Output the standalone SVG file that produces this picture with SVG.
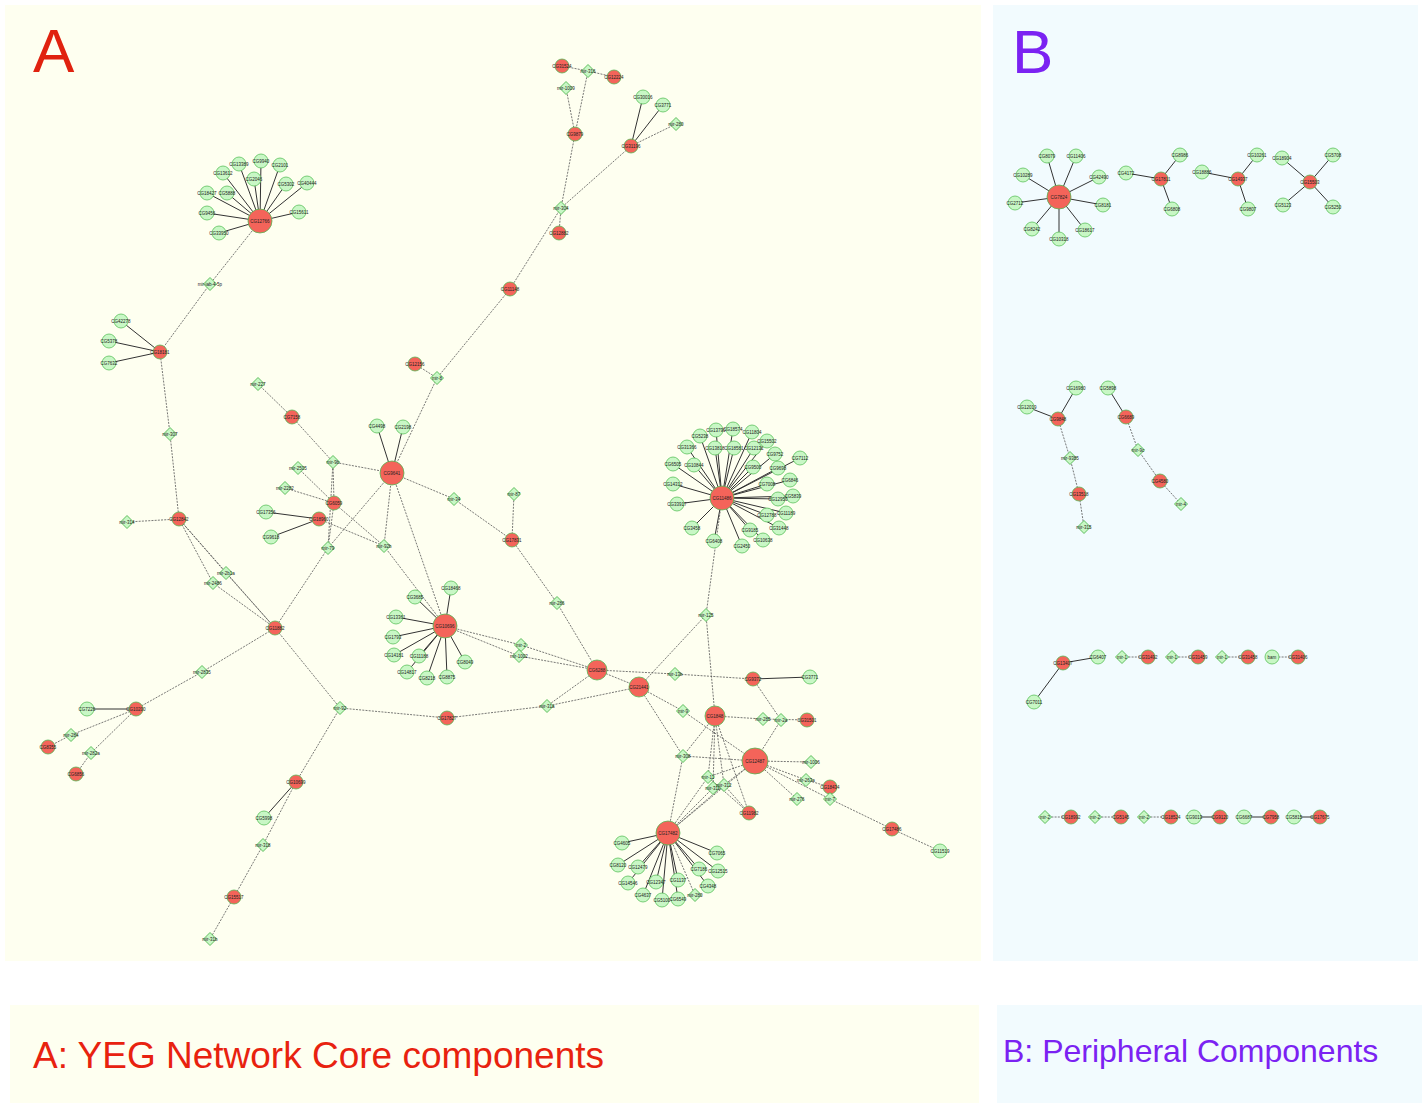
<svg xmlns="http://www.w3.org/2000/svg" xmlns:xlink="http://www.w3.org/1999/xlink" width="1427" height="1105" viewBox="0 0 1427 1105">
<style>
.bgA{fill:#FEFFF0}
.bgB{fill:#F2FBFE}
.gn{fill:#C8F7C5;stroke:#5DC25D;stroke-width:.8}
.rn{fill:#F4645A;stroke:#56B856;stroke-width:.8}
.mn{fill:#C8F7C5;stroke:#3FAF3F;stroke-width:.8}
.s{stroke:#333;stroke-width:1;fill:none}
.d{stroke:#555;stroke-width:.8;stroke-dasharray:2 1.2;fill:none}
.t{font-family:"Liberation Sans",Arial,sans-serif;font-size:4.5px;fill:#222;text-anchor:middle;dominant-baseline:central}
.big{font-family:"Liberation Sans",Arial,sans-serif}
</style>
<defs>
<path id="dm" d="M0,-6.5L6.5,0L0,6.5L-6.5,0Z"/>
</defs>

<!-- panels -->
<rect class="bgA" x="5" y="5" width="976" height="956"/>
<rect class="bgB" x="993" y="5" width="425" height="956"/>
<rect class="bgA" x="10" y="1005" width="969" height="98"/>
<rect class="bgB" x="997" y="1005" width="425" height="98"/>
<text class="big" x="33" y="72" font-size="62" fill="#E0220F">A</text>
<text class="big" x="1012" y="73" font-size="62" fill="#7B22F2">B</text>
<text class="big" x="33" y="1068" font-size="37" fill="#E8220F">A: YEG Network Core components</text>
<text class="big" x="1003" y="1062" font-size="32" fill="#7B22F2">B: Peripheral Components</text>

<g id="edges">
<!-- gene to hub links (solid) -->
<g class="s">
<line x1="260" y1="221" x2="239" y2="164"/><line x1="260" y1="221" x2="261" y2="161"/><line x1="260" y1="221" x2="280" y2="165"/><line x1="260" y1="221" x2="223" y2="173"/><line x1="260" y1="221" x2="254" y2="179"/><line x1="260" y1="221" x2="286" y2="184"/><line x1="260" y1="221" x2="307" y2="183"/><line x1="260" y1="221" x2="207" y2="193"/><line x1="260" y1="221" x2="227" y2="193"/><line x1="260" y1="221" x2="207" y2="213"/><line x1="260" y1="221" x2="299" y2="212"/><line x1="260" y1="221" x2="219" y2="233"/>
<line x1="160" y1="352" x2="121" y2="321"/><line x1="160" y1="352" x2="109" y2="341"/><line x1="160" y1="352" x2="109" y2="363"/>
<line x1="631" y1="146" x2="643" y2="97"/><line x1="631" y1="146" x2="663" y2="105"/>
<line x1="392" y1="473" x2="377" y2="426"/><line x1="392" y1="473" x2="403" y2="427"/>
<line x1="319" y1="519" x2="266" y2="512"/><line x1="319" y1="519" x2="271" y2="537"/>
<line x1="136" y1="709" x2="87" y2="709"/>
<line x1="296" y1="782" x2="264" y2="818"/>
<line x1="753" y1="679" x2="810" y2="677"/>
<line x1="722" y1="498" x2="716" y2="430"/><line x1="722" y1="498" x2="733" y2="429"/><line x1="722" y1="498" x2="752" y2="432"/><line x1="722" y1="498" x2="700" y2="436"/><line x1="722" y1="498" x2="687" y2="447"/><line x1="722" y1="498" x2="715" y2="448"/><line x1="722" y1="498" x2="734" y2="448"/><line x1="722" y1="498" x2="754" y2="448"/><line x1="722" y1="498" x2="767" y2="441"/><line x1="722" y1="498" x2="775" y2="454"/><line x1="722" y1="498" x2="800" y2="458"/><line x1="722" y1="498" x2="673" y2="464"/><line x1="722" y1="498" x2="694" y2="465"/><line x1="722" y1="498" x2="753" y2="467"/><line x1="722" y1="498" x2="778" y2="468"/><line x1="722" y1="498" x2="790" y2="480"/><line x1="722" y1="498" x2="673" y2="484"/><line x1="722" y1="498" x2="767" y2="484"/><line x1="722" y1="498" x2="793" y2="496"/><line x1="722" y1="498" x2="778" y2="499"/><line x1="722" y1="498" x2="677" y2="504"/><line x1="722" y1="498" x2="786" y2="513"/><line x1="722" y1="498" x2="767" y2="515"/><line x1="722" y1="498" x2="779" y2="528"/><line x1="722" y1="498" x2="692" y2="528"/><line x1="722" y1="498" x2="750" y2="530"/><line x1="722" y1="498" x2="763" y2="540"/><line x1="722" y1="498" x2="714" y2="541"/><line x1="722" y1="498" x2="742" y2="546"/>
<line x1="445" y1="626" x2="451" y2="588"/><line x1="445" y1="626" x2="415" y2="597"/><line x1="445" y1="626" x2="396" y2="617"/><line x1="445" y1="626" x2="393" y2="637"/><line x1="445" y1="626" x2="394" y2="655"/><line x1="445" y1="626" x2="419" y2="656"/><line x1="445" y1="626" x2="407" y2="672"/><line x1="445" y1="626" x2="427" y2="678"/><line x1="445" y1="626" x2="447" y2="677"/><line x1="445" y1="626" x2="465" y2="662"/>
<line x1="668" y1="833" x2="622" y2="843"/><line x1="668" y1="833" x2="618" y2="865"/><line x1="668" y1="833" x2="638" y2="867"/><line x1="668" y1="833" x2="628" y2="883"/><line x1="668" y1="833" x2="643" y2="895"/><line x1="668" y1="833" x2="656" y2="882"/><line x1="668" y1="833" x2="662" y2="900"/><line x1="668" y1="833" x2="678" y2="899"/><line x1="668" y1="833" x2="678" y2="880"/><line x1="668" y1="833" x2="708" y2="886"/><line x1="668" y1="833" x2="699" y2="869"/><line x1="668" y1="833" x2="718" y2="871"/><line x1="668" y1="833" x2="717" y2="853"/>
<!-- peripheral -->
<line x1="1059" y1="197" x2="1047" y2="156"/><line x1="1059" y1="197" x2="1076" y2="156"/><line x1="1059" y1="197" x2="1023" y2="175"/><line x1="1059" y1="197" x2="1099" y2="177"/><line x1="1059" y1="197" x2="1015" y2="203"/><line x1="1059" y1="197" x2="1103" y2="205"/><line x1="1059" y1="197" x2="1032" y2="229"/><line x1="1059" y1="197" x2="1085" y2="230"/><line x1="1059" y1="197" x2="1059" y2="239"/>
<line x1="1161" y1="179" x2="1126" y2="173"/><line x1="1161" y1="179" x2="1180" y2="155"/><line x1="1161" y1="179" x2="1172" y2="209"/>
<line x1="1238" y1="179" x2="1202" y2="172"/><line x1="1238" y1="179" x2="1257" y2="155"/><line x1="1238" y1="179" x2="1248" y2="209"/>
<line x1="1310" y1="182" x2="1282" y2="158"/><line x1="1310" y1="182" x2="1333" y2="155"/><line x1="1310" y1="182" x2="1283" y2="205"/><line x1="1310" y1="182" x2="1333" y2="207"/>
<line x1="1058" y1="419" x2="1076" y2="388"/><line x1="1058" y1="419" x2="1027" y2="407"/>
<line x1="1126" y1="417" x2="1108" y2="388"/>
<line x1="1063" y1="663" x2="1098" y2="657"/><line x1="1063" y1="663" x2="1034" y2="702"/>
<line x1="1194" y1="817" x2="1220" y2="817"/><line x1="1244" y1="817" x2="1271" y2="817"/><line x1="1294" y1="817" x2="1320" y2="817"/>
</g>
<!-- miRNA to target links (dashed) -->
<g class="d">
<line x1="260" y1="221" x2="210" y2="284"/><line x1="210" y1="284" x2="160" y2="352"/>
<line x1="160" y1="352" x2="170" y2="434"/><line x1="170" y1="434" x2="179" y2="519"/>
<line x1="179" y1="519" x2="127" y2="522"/>
<line x1="179" y1="519" x2="226" y2="573"/><line x1="179" y1="519" x2="213" y2="583"/><line x1="179" y1="519" x2="275" y2="628"/>
<line x1="226" y1="573" x2="275" y2="628"/><line x1="213" y1="583" x2="275" y2="628"/>
<line x1="275" y1="628" x2="202" y2="672"/><line x1="202" y1="672" x2="136" y2="709"/>
<line x1="136" y1="709" x2="71" y2="735"/><line x1="71" y1="735" x2="48" y2="747"/>
<line x1="136" y1="709" x2="91" y2="753"/><line x1="91" y1="753" x2="76" y2="774"/>
<line x1="275" y1="628" x2="328" y2="548"/><line x1="328" y1="548" x2="392" y2="473"/>
<line x1="275" y1="628" x2="340" y2="708"/><line x1="340" y1="708" x2="447" y2="718"/>
<line x1="340" y1="708" x2="296" y2="782"/><line x1="296" y1="782" x2="263" y2="845"/>
<line x1="263" y1="845" x2="234" y2="897"/><line x1="234" y1="897" x2="210" y2="939"/>
<line x1="562" y1="66" x2="588" y2="71"/><line x1="588" y1="71" x2="614" y2="77"/>
<line x1="588" y1="71" x2="575" y2="134"/><line x1="566" y1="88" x2="575" y2="134"/>
<line x1="575" y1="134" x2="561" y2="208"/><line x1="631" y1="146" x2="676" y2="124"/>
<line x1="631" y1="146" x2="561" y2="208"/><line x1="561" y1="208" x2="559" y2="233"/>
<line x1="561" y1="208" x2="510" y2="289"/><line x1="510" y1="289" x2="437" y2="378"/>
<line x1="415" y1="364" x2="437" y2="378"/><line x1="437" y1="378" x2="392" y2="473"/>
<line x1="258" y1="384" x2="292" y2="417"/><line x1="292" y1="417" x2="333" y2="462"/>
<line x1="333" y1="462" x2="392" y2="473"/><line x1="333" y1="462" x2="334" y2="503"/>
<line x1="333" y1="462" x2="328" y2="548"/>
<line x1="298" y1="468" x2="334" y2="503"/><line x1="285" y1="488" x2="334" y2="503"/>
<line x1="334" y1="503" x2="384" y2="546"/><line x1="334" y1="503" x2="328" y2="548"/>
<line x1="319" y1="519" x2="384" y2="546"/><line x1="392" y1="473" x2="384" y2="546"/>
<line x1="384" y1="546" x2="445" y2="626"/><line x1="392" y1="473" x2="445" y2="626"/>
<line x1="392" y1="473" x2="454" y2="499"/><line x1="454" y1="499" x2="512" y2="540"/>
<line x1="514" y1="494" x2="512" y2="540"/><line x1="512" y1="540" x2="557" y2="603"/>
<line x1="557" y1="603" x2="597" y2="670"/>
<line x1="445" y1="626" x2="521" y2="645"/><line x1="521" y1="645" x2="597" y2="670"/>
<line x1="445" y1="626" x2="519" y2="656"/><line x1="519" y1="656" x2="597" y2="670"/>
<line x1="597" y1="670" x2="675" y2="674"/><line x1="675" y1="674" x2="753" y2="679"/>
<line x1="597" y1="670" x2="639" y2="687"/>
<line x1="597" y1="670" x2="547" y2="706"/><line x1="639" y1="687" x2="547" y2="706"/>
<line x1="547" y1="706" x2="447" y2="718"/>
<line x1="639" y1="687" x2="706" y2="615"/><line x1="706" y1="615" x2="722" y2="498"/>
<line x1="706" y1="615" x2="715" y2="716"/>
<line x1="639" y1="687" x2="683" y2="711"/><line x1="683" y1="711" x2="755" y2="761"/>
<line x1="639" y1="687" x2="683" y2="756"/><line x1="683" y1="756" x2="755" y2="761"/>
<line x1="683" y1="756" x2="715" y2="716"/><line x1="683" y1="756" x2="668" y2="833"/>
<line x1="715" y1="716" x2="763" y2="719"/><line x1="763" y1="719" x2="807" y2="720"/>
<line x1="781" y1="720" x2="753" y2="679"/><line x1="781" y1="720" x2="755" y2="761"/>
<line x1="715" y1="716" x2="708" y2="777"/><line x1="715" y1="716" x2="713" y2="788"/>
<line x1="715" y1="716" x2="724" y2="785"/><line x1="715" y1="716" x2="749" y2="813"/>
<line x1="708" y1="777" x2="668" y2="833"/><line x1="713" y1="788" x2="668" y2="833"/>
<line x1="724" y1="785" x2="668" y2="833"/><line x1="755" y1="761" x2="668" y2="833"/>
<line x1="755" y1="761" x2="708" y2="777"/><line x1="755" y1="761" x2="724" y2="785"/>
<line x1="708" y1="777" x2="749" y2="813"/><line x1="724" y1="785" x2="749" y2="813"/>
<line x1="755" y1="761" x2="811" y2="762"/>
<line x1="755" y1="761" x2="806" y2="780"/><line x1="806" y1="780" x2="830" y2="787"/>
<line x1="755" y1="761" x2="830" y2="799"/><line x1="830" y1="799" x2="830" y2="787"/>
<line x1="830" y1="799" x2="892" y2="829"/><line x1="755" y1="761" x2="797" y2="799"/>
<line x1="892" y1="829" x2="940" y2="851"/>
<line x1="668" y1="833" x2="695" y2="895"/>
<!-- peripheral -->
<line x1="1058" y1="419" x2="1070" y2="458"/><line x1="1070" y1="458" x2="1079" y2="494"/><line x1="1079" y1="494" x2="1084" y2="527"/>
<line x1="1126" y1="417" x2="1138" y2="450"/><line x1="1138" y1="450" x2="1160" y2="481"/><line x1="1160" y1="481" x2="1181" y2="504"/>
<line x1="1122" y1="657" x2="1148" y2="657"/><line x1="1172" y1="657" x2="1198" y2="657"/><line x1="1222" y1="657" x2="1248" y2="657"/><line x1="1272" y1="657" x2="1298" y2="657"/>
<line x1="1045" y1="817" x2="1071" y2="817"/><line x1="1095" y1="817" x2="1121" y2="817"/><line x1="1144" y1="817" x2="1171" y2="817"/>
</g>
</g>

<!-- core component nodes -->
<g id="n-CG12766"><circle class="rn" cx="260" cy="221" r="12"/><text class="t" x="260" y="221">CG12766</text></g>
<g id="n-CG13389"><circle class="gn" cx="239" cy="164" r="7"/><text class="t" x="239" y="164">CG13389</text></g>
<g id="n-CG9940"><circle class="gn" cx="261" cy="161" r="7"/><text class="t" x="261" y="161">CG9940</text></g>
<g id="n-CG2101"><circle class="gn" cx="280" cy="165" r="7"/><text class="t" x="280" y="165">CG2101</text></g>
<g id="n-CG13612"><circle class="gn" cx="223" cy="173" r="7"/><text class="t" x="223" y="173">CG13612</text></g>
<g id="n-CG2046"><circle class="gn" cx="254" cy="179" r="7"/><text class="t" x="254" y="179">CG2046</text></g>
<g id="n-CG5302"><circle class="gn" cx="286" cy="184" r="7"/><text class="t" x="286" y="184">CG5302</text></g>
<g id="n-CG40444"><circle class="gn" cx="307" cy="183" r="7"/><text class="t" x="307" y="183">CG40444</text></g>
<g id="n-CG18427"><circle class="gn" cx="207" cy="193" r="7"/><text class="t" x="207" y="193">CG18427</text></g>
<g id="n-CG5888"><circle class="gn" cx="227" cy="193" r="7"/><text class="t" x="227" y="193">CG5888</text></g>
<g id="n-CG9456"><circle class="gn" cx="207" cy="213" r="7"/><text class="t" x="207" y="213">CG9456</text></g>
<g id="n-CG15611"><circle class="gn" cx="299" cy="212" r="7"/><text class="t" x="299" y="212">CG15611</text></g>
<g id="n-CG33950"><circle class="gn" cx="219" cy="233" r="7"/><text class="t" x="219" y="233">CG33950</text></g>

<g id="n-mir-iab-4-5p"><use xlink:href="#dm" class="mn" x="210" y="284"/><text class="t" x="210" y="284">mir-iab-4-5p</text></g>
<g id="n-CG18181"><circle class="rn" cx="160" cy="352" r="7"/><text class="t" x="160" y="352">CG18181</text></g>
<g id="n-CG42278"><circle class="gn" cx="121" cy="321" r="7"/><text class="t" x="121" y="321">CG42278</text></g>
<g id="n-CG5378"><circle class="gn" cx="109" cy="341" r="7"/><text class="t" x="109" y="341">CG5378</text></g>
<g id="n-CG7632"><circle class="gn" cx="109" cy="363" r="7"/><text class="t" x="109" y="363">CG7632</text></g>
<g id="n-mir-307"><use xlink:href="#dm" class="mn" x="170" y="434"/><text class="t" x="170" y="434">mir-307</text></g>
<g id="n-CG12842"><circle class="rn" cx="179" cy="519" r="7"/><text class="t" x="179" y="519">CG12842</text></g>
<g id="n-mir-314"><use xlink:href="#dm" class="mn" x="127" y="522"/><text class="t" x="127" y="522">mir-314</text></g>
<g id="n-mir-2b1a"><use xlink:href="#dm" class="mn" x="226" y="573"/><text class="t" x="226" y="573">mir-2b1a</text></g>
<g id="n-mir-2486"><use xlink:href="#dm" class="mn" x="213" y="583"/><text class="t" x="213" y="583">mir-2486</text></g>
<g id="n-CG11882"><circle class="rn" cx="275" cy="628" r="7"/><text class="t" x="275" y="628">CG11882</text></g>
<g id="n-mir-2835"><use xlink:href="#dm" class="mn" x="202" y="672"/><text class="t" x="202" y="672">mir-2835</text></g>
<g id="n-CG10200"><circle class="rn" cx="136" cy="709" r="7"/><text class="t" x="136" y="709">CG10200</text></g>
<g id="n-CG7226"><circle class="gn" cx="87" cy="709" r="7"/><text class="t" x="87" y="709">CG7226</text></g>
<g id="n-mir-284"><use xlink:href="#dm" class="mn" x="71" y="735"/><text class="t" x="71" y="735">mir-284</text></g>
<g id="n-CG8355"><circle class="rn" cx="48" cy="747" r="7"/><text class="t" x="48" y="747">CG8355</text></g>
<g id="n-mir-282a"><use xlink:href="#dm" class="mn" x="91" y="753"/><text class="t" x="91" y="753">mir-282a</text></g>
<g id="n-CG6856"><circle class="rn" cx="76" cy="774" r="7"/><text class="t" x="76" y="774">CG6856</text></g>
<g id="n-mir-92"><use xlink:href="#dm" class="mn" x="340" y="708"/><text class="t" x="340" y="708">mir-92</text></g>
<g id="n-CG10699"><circle class="rn" cx="296" cy="782" r="7"/><text class="t" x="296" y="782">CG10699</text></g>
<g id="n-CG5998"><circle class="gn" cx="264" cy="818" r="7"/><text class="t" x="264" y="818">CG5998</text></g>
<g id="n-mir-318"><use xlink:href="#dm" class="mn" x="263" y="845"/><text class="t" x="263" y="845">mir-318</text></g>
<g id="n-CG15517"><circle class="rn" cx="234" cy="897" r="7"/><text class="t" x="234" y="897">CG15517</text></g>
<g id="n-mir-31b"><use xlink:href="#dm" class="mn" x="210" y="939"/><text class="t" x="210" y="939">mir-31b</text></g>

<g id="n-CG31524"><circle class="rn" cx="562" cy="66" r="7"/><text class="t" x="562" y="66">CG31524</text></g>
<g id="n-mir-316"><use xlink:href="#dm" class="mn" x="588" y="71"/><text class="t" x="588" y="71">mir-316</text></g>
<g id="n-CG12224"><circle class="rn" cx="614" cy="77" r="7"/><text class="t" x="614" y="77">CG12224</text></g>
<g id="n-mir-1009"><use xlink:href="#dm" class="mn" x="566" y="88"/><text class="t" x="566" y="88">mir-1009</text></g>
<g id="n-CG30016"><circle class="gn" cx="643" cy="97" r="7"/><text class="t" x="643" y="97">CG30016</text></g>
<g id="n-CG3771"><circle class="gn" cx="663" cy="105" r="7"/><text class="t" x="663" y="105">CG3771</text></g>
<g id="n-mir-280"><use xlink:href="#dm" class="mn" x="676" y="124"/><text class="t" x="676" y="124">mir-280</text></g>
<g id="n-CG9879"><circle class="rn" cx="575" cy="134" r="7"/><text class="t" x="575" y="134">CG9879</text></g>
<g id="n-CG31196"><circle class="rn" cx="631" cy="146" r="7"/><text class="t" x="631" y="146">CG31196</text></g>
<g id="n-mir-304"><use xlink:href="#dm" class="mn" x="561" y="208"/><text class="t" x="561" y="208">mir-304</text></g>
<g id="n-CG12882"><circle class="rn" cx="559" cy="233" r="7"/><text class="t" x="559" y="233">CG12882</text></g>
<g id="n-CG11148"><circle class="rn" cx="510" cy="289" r="7"/><text class="t" x="510" y="289">CG11148</text></g>
<g id="n-CG12156"><circle class="rn" cx="415" cy="364" r="7"/><text class="t" x="415" y="364">CG12156</text></g>
<g id="n-mir-8"><use xlink:href="#dm" class="mn" x="437" y="378"/><text class="t" x="437" y="378">mir-8</text></g>

<g id="n-mir-227"><use xlink:href="#dm" class="mn" x="258" y="384"/><text class="t" x="258" y="384">mir-227</text></g>
<g id="n-CG7158"><circle class="rn" cx="292" cy="417" r="7"/><text class="t" x="292" y="417">CG7158</text></g>
<g id="n-CG4498"><circle class="gn" cx="377" cy="426" r="7"/><text class="t" x="377" y="426">CG4498</text></g>
<g id="n-CG2198"><circle class="gn" cx="403" cy="427" r="7"/><text class="t" x="403" y="427">CG2198</text></g>
<g id="n-CG9641"><circle class="rn" cx="392" cy="473" r="12"/><text class="t" x="392" y="473">CG9641</text></g>
<g id="n-mir-9b"><use xlink:href="#dm" class="mn" x="333" y="462"/><text class="t" x="333" y="462">mir-9b</text></g>
<g id="n-mir-2505"><use xlink:href="#dm" class="mn" x="298" y="468"/><text class="t" x="298" y="468">mir-2505</text></g>
<g id="n-mir-2282"><use xlink:href="#dm" class="mn" x="285" y="488"/><text class="t" x="285" y="488">mir-2282</text></g>
<g id="n-CG6059"><circle class="rn" cx="334" cy="503" r="7"/><text class="t" x="334" y="503">CG6059</text></g>
<g id="n-mir-34"><use xlink:href="#dm" class="mn" x="454" y="499"/><text class="t" x="454" y="499">mir-34</text></g>
<g id="n-CG17356"><circle class="gn" cx="266" cy="512" r="7"/><text class="t" x="266" y="512">CG17356</text></g>
<g id="n-CG18960"><circle class="rn" cx="319" cy="519" r="7"/><text class="t" x="319" y="519">CG18960</text></g>
<g id="n-CG9618"><circle class="gn" cx="271" cy="537" r="7"/><text class="t" x="271" y="537">CG9618</text></g>
<g id="n-mir-79"><use xlink:href="#dm" class="mn" x="328" y="548"/><text class="t" x="328" y="548">mir-79</text></g>
<g id="n-mir-92b"><use xlink:href="#dm" class="mn" x="384" y="546"/><text class="t" x="384" y="546">mir-92b</text></g>
<g id="n-mir-87"><use xlink:href="#dm" class="mn" x="514" y="494"/><text class="t" x="514" y="494">mir-87</text></g>
<g id="n-CG17831"><circle class="rn" cx="512" cy="540" r="7"/><text class="t" x="512" y="540">CG17831</text></g>
<g id="n-mir-286"><use xlink:href="#dm" class="mn" x="557" y="603"/><text class="t" x="557" y="603">mir-286</text></g>

<g id="n-CG10696"><circle class="rn" cx="445" cy="626" r="12"/><text class="t" x="445" y="626">CG10696</text></g>
<g id="n-CG18468"><circle class="gn" cx="451" cy="588" r="7"/><text class="t" x="451" y="588">CG18468</text></g>
<g id="n-CG3685"><circle class="gn" cx="415" cy="597" r="7"/><text class="t" x="415" y="597">CG3685</text></g>
<g id="n-CG13361"><circle class="gn" cx="396" cy="617" r="7"/><text class="t" x="396" y="617">CG13361</text></g>
<g id="n-CG1793"><circle class="gn" cx="393" cy="637" r="7"/><text class="t" x="393" y="637">CG1793</text></g>
<g id="n-CG14181"><circle class="gn" cx="394" cy="655" r="7"/><text class="t" x="394" y="655">CG14181</text></g>
<g id="n-CG11188"><circle class="gn" cx="419" cy="656" r="7"/><text class="t" x="419" y="656">CG11188</text></g>
<g id="n-CG14817"><circle class="gn" cx="407" cy="672" r="7"/><text class="t" x="407" y="672">CG14817</text></g>
<g id="n-CG8218"><circle class="gn" cx="427" cy="678" r="7"/><text class="t" x="427" y="678">CG8218</text></g>
<g id="n-CG8875"><circle class="gn" cx="447" cy="677" r="7"/><text class="t" x="447" y="677">CG8875</text></g>
<g id="n-CG8049"><circle class="gn" cx="465" cy="662" r="7"/><text class="t" x="465" y="662">CG8049</text></g>
<g id="n-mir-2"><use xlink:href="#dm" class="mn" x="521" y="645"/><text class="t" x="521" y="645">mir-2</text></g>
<g id="n-mir-1002"><use xlink:href="#dm" class="mn" x="519" y="656"/><text class="t" x="519" y="656">mir-1002</text></g>
<g id="n-CG6288"><circle class="rn" cx="597" cy="670" r="10"/><text class="t" x="597" y="670">CG6288</text></g>
<g id="n-CG17827"><circle class="rn" cx="447" cy="718" r="7"/><text class="t" x="447" y="718">CG17827</text></g>
<g id="n-mir-31a"><use xlink:href="#dm" class="mn" x="547" y="706"/><text class="t" x="547" y="706">mir-31a</text></g>
<g id="n-CG21441"><circle class="rn" cx="639" cy="687" r="10"/><text class="t" x="639" y="687">CG21441</text></g>
<g id="n-mir-13b"><use xlink:href="#dm" class="mn" x="675" y="674"/><text class="t" x="675" y="674">mir-13b</text></g>
<g id="n-CG9372"><circle class="rn" cx="753" cy="679" r="7"/><text class="t" x="753" y="679">CG9372</text></g>
<g id="n-CG3771b"><circle class="gn" cx="810" cy="677" r="7"/><text class="t" x="810" y="677">CG3771</text></g>
<g id="n-mir-125"><use xlink:href="#dm" class="mn" x="706" y="615"/><text class="t" x="706" y="615">mir-125</text></g>

<g id="n-CG11486"><circle class="rn" cx="722" cy="498" r="12"/><text class="t" x="722" y="498">CG11486</text></g>
<g id="n-CG13790"><circle class="gn" cx="716" cy="430" r="7"/><text class="t" x="716" y="430">CG13790</text></g>
<g id="n-CG18574"><circle class="gn" cx="733" cy="429" r="7"/><text class="t" x="733" y="429">CG18574</text></g>
<g id="n-CG11804"><circle class="gn" cx="752" cy="432" r="7"/><text class="t" x="752" y="432">CG11804</text></g>
<g id="n-CG5238"><circle class="gn" cx="700" cy="436" r="7"/><text class="t" x="700" y="436">CG5238</text></g>
<g id="n-CG31366"><circle class="gn" cx="687" cy="447" r="7"/><text class="t" x="687" y="447">CG31366</text></g>
<g id="n-CG13818"><circle class="gn" cx="715" cy="448" r="7"/><text class="t" x="715" y="448">CG13818</text></g>
<g id="n-CG18581"><circle class="gn" cx="734" cy="448" r="7"/><text class="t" x="734" y="448">CG18581</text></g>
<g id="n-CG12132"><circle class="gn" cx="754" cy="448" r="7"/><text class="t" x="754" y="448">CG12132</text></g>
<g id="n-CG15502"><circle class="gn" cx="767" cy="441" r="7"/><text class="t" x="767" y="441">CG15502</text></g>
<g id="n-CG9752"><circle class="gn" cx="775" cy="454" r="7"/><text class="t" x="775" y="454">CG9752</text></g>
<g id="n-CG7112"><circle class="gn" cx="800" cy="458" r="7"/><text class="t" x="800" y="458">CG7112</text></g>
<g id="n-CG6505"><circle class="gn" cx="673" cy="464" r="7"/><text class="t" x="673" y="464">CG6505</text></g>
<g id="n-CG10844"><circle class="gn" cx="694" cy="465" r="7"/><text class="t" x="694" y="465">CG10844</text></g>
<g id="n-CG9500"><circle class="gn" cx="753" cy="467" r="7"/><text class="t" x="753" y="467">CG9500</text></g>
<g id="n-CG9698"><circle class="gn" cx="778" cy="468" r="7"/><text class="t" x="778" y="468">CG9698</text></g>
<g id="n-CG6846"><circle class="gn" cx="790" cy="480" r="7"/><text class="t" x="790" y="480">CG6846</text></g>
<g id="n-CG14312"><circle class="gn" cx="673" cy="484" r="7"/><text class="t" x="673" y="484">CG14312</text></g>
<g id="n-CG7008"><circle class="gn" cx="767" cy="484" r="7"/><text class="t" x="767" y="484">CG7008</text></g>
<g id="n-CG5839"><circle class="gn" cx="793" cy="496" r="7"/><text class="t" x="793" y="496">CG5839</text></g>
<g id="n-CG12950"><circle class="gn" cx="778" cy="499" r="7"/><text class="t" x="778" y="499">CG12950</text></g>
<g id="n-CG33917"><circle class="gn" cx="677" cy="504" r="7"/><text class="t" x="677" y="504">CG33917</text></g>
<g id="n-CG11189"><circle class="gn" cx="786" cy="513" r="7"/><text class="t" x="786" y="513">CG11189</text></g>
<g id="n-CG12788"><circle class="gn" cx="767" cy="515" r="7"/><text class="t" x="767" y="515">CG12788</text></g>
<g id="n-CG31448"><circle class="gn" cx="779" cy="528" r="7"/><text class="t" x="779" y="528">CG31448</text></g>
<g id="n-CG3458"><circle class="gn" cx="692" cy="528" r="7"/><text class="t" x="692" y="528">CG3458</text></g>
<g id="n-CG9185"><circle class="gn" cx="750" cy="530" r="7"/><text class="t" x="750" y="530">CG9185</text></g>
<g id="n-CG10638"><circle class="gn" cx="763" cy="540" r="7"/><text class="t" x="763" y="540">CG10638</text></g>
<g id="n-CG6408"><circle class="gn" cx="714" cy="541" r="7"/><text class="t" x="714" y="541">CG6408</text></g>
<g id="n-CG2450"><circle class="gn" cx="742" cy="546" r="7"/><text class="t" x="742" y="546">CG2450</text></g>

<g id="n-mir-9"><use xlink:href="#dm" class="mn" x="683" y="711"/><text class="t" x="683" y="711">mir-9</text></g>
<g id="n-CG1848"><circle class="rn" cx="715" cy="716" r="10"/><text class="t" x="715" y="716">CG1848</text></g>
<g id="n-mir-285"><use xlink:href="#dm" class="mn" x="763" y="719"/><text class="t" x="763" y="719">mir-285</text></g>
<g id="n-mir-2a"><use xlink:href="#dm" class="mn" x="781" y="720"/><text class="t" x="781" y="720">mir-2a</text></g>
<g id="n-CG31501"><circle class="rn" cx="807" cy="720" r="7"/><text class="t" x="807" y="720">CG31501</text></g>
<g id="n-mir-308"><use xlink:href="#dm" class="mn" x="683" y="756"/><text class="t" x="683" y="756">mir-308</text></g>
<g id="n-CG12487"><circle class="rn" cx="755" cy="761" r="13"/><text class="t" x="755" y="761">CG12487</text></g>
<g id="n-mir-1006"><use xlink:href="#dm" class="mn" x="811" y="762"/><text class="t" x="811" y="762">mir-1006</text></g>
<g id="n-mir-11"><use xlink:href="#dm" class="mn" x="708" y="777"/><text class="t" x="708" y="777">mir-11</text></g>
<g id="n-mir-310"><use xlink:href="#dm" class="mn" x="713" y="788"/><text class="t" x="713" y="788">mir-310</text></g>
<g id="n-mir-312"><use xlink:href="#dm" class="mn" x="724" y="785"/><text class="t" x="724" y="785">mir-312</text></g>
<g id="n-mir-263a"><use xlink:href="#dm" class="mn" x="806" y="780"/><text class="t" x="806" y="780">mir-263a</text></g>
<g id="n-CG18434"><circle class="rn" cx="830" cy="787" r="7"/><text class="t" x="830" y="787">CG18434</text></g>
<g id="n-mir-7"><use xlink:href="#dm" class="mn" x="830" y="799"/><text class="t" x="830" y="799">mir-7</text></g>
<g id="n-mir-276"><use xlink:href="#dm" class="mn" x="797" y="799"/><text class="t" x="797" y="799">mir-276</text></g>
<g id="n-CG11982"><circle class="rn" cx="749" cy="813" r="7"/><text class="t" x="749" y="813">CG11982</text></g>
<g id="n-CG17486"><circle class="rn" cx="892" cy="829" r="7"/><text class="t" x="892" y="829">CG17486</text></g>
<g id="n-CG11519"><circle class="gn" cx="940" cy="851" r="7"/><text class="t" x="940" y="851">CG11519</text></g>

<g id="n-CG17482"><circle class="rn" cx="668" cy="833" r="12"/><text class="t" x="668" y="833">CG17482</text></g>
<g id="n-CG4605"><circle class="gn" cx="622" cy="843" r="7"/><text class="t" x="622" y="843">CG4605</text></g>
<g id="n-CG8120"><circle class="gn" cx="618" cy="865" r="7"/><text class="t" x="618" y="865">CG8120</text></g>
<g id="n-CG12479"><circle class="gn" cx="638" cy="867" r="7"/><text class="t" x="638" y="867">CG12479</text></g>
<g id="n-CG14546"><circle class="gn" cx="628" cy="883" r="7"/><text class="t" x="628" y="883">CG14546</text></g>
<g id="n-CG4637"><circle class="gn" cx="643" cy="895" r="7"/><text class="t" x="643" y="895">CG4637</text></g>
<g id="n-CG12347"><circle class="gn" cx="656" cy="882" r="7"/><text class="t" x="656" y="882">CG12347</text></g>
<g id="n-CG5100"><circle class="gn" cx="662" cy="900" r="7"/><text class="t" x="662" y="900">CG5100</text></g>
<g id="n-CG6549"><circle class="gn" cx="678" cy="899" r="7"/><text class="t" x="678" y="899">CG6549</text></g>
<g id="n-CG1137"><circle class="gn" cx="678" cy="880" r="7"/><text class="t" x="678" y="880">CG1137</text></g>
<g id="n-mir-280b"><use xlink:href="#dm" class="mn" x="695" y="895"/><text class="t" x="695" y="895">mir-280</text></g>
<g id="n-CG4348"><circle class="gn" cx="708" cy="886" r="7"/><text class="t" x="708" y="886">CG4348</text></g>
<g id="n-CG7186"><circle class="gn" cx="699" cy="869" r="7"/><text class="t" x="699" y="869">CG7186</text></g>
<g id="n-CG12515"><circle class="gn" cx="718" cy="871" r="7"/><text class="t" x="718" y="871">CG12515</text></g>
<g id="n-CG7065"><circle class="gn" cx="717" cy="853" r="7"/><text class="t" x="717" y="853">CG7065</text></g>

<!-- peripheral component nodes -->
<g id="n-CG7824"><circle class="rn" cx="1059" cy="197" r="12"/><text class="t" x="1059" y="197">CG7824</text></g>
<g id="n-CG8079"><circle class="gn" cx="1047" cy="156" r="7"/><text class="t" x="1047" y="156">CG8079</text></g>
<g id="n-CG11406"><circle class="gn" cx="1076" cy="156" r="7"/><text class="t" x="1076" y="156">CG11406</text></g>
<g id="n-CG10289"><circle class="gn" cx="1023" cy="175" r="7"/><text class="t" x="1023" y="175">CG10289</text></g>
<g id="n-CG42490"><circle class="gn" cx="1099" cy="177" r="7"/><text class="t" x="1099" y="177">CG42490</text></g>
<g id="n-CG2712"><circle class="gn" cx="1015" cy="203" r="7"/><text class="t" x="1015" y="203">CG2712</text></g>
<g id="n-CG8181"><circle class="gn" cx="1103" cy="205" r="7"/><text class="t" x="1103" y="205">CG8181</text></g>
<g id="n-CG8242"><circle class="gn" cx="1032" cy="229" r="7"/><text class="t" x="1032" y="229">CG8242</text></g>
<g id="n-CG18617"><circle class="gn" cx="1085" cy="230" r="7"/><text class="t" x="1085" y="230">CG18617</text></g>
<g id="n-CG10318"><circle class="gn" cx="1059" cy="239" r="7"/><text class="t" x="1059" y="239">CG10318</text></g>

<g id="n-CG17811"><circle class="rn" cx="1161" cy="179" r="7"/><text class="t" x="1161" y="179">CG17811</text></g>
<g id="n-CG4172"><circle class="gn" cx="1126" cy="173" r="7"/><text class="t" x="1126" y="173">CG4172</text></g>
<g id="n-CG8986"><circle class="gn" cx="1180" cy="155" r="7"/><text class="t" x="1180" y="155">CG8986</text></g>
<g id="n-CG6808"><circle class="gn" cx="1172" cy="209" r="7"/><text class="t" x="1172" y="209">CG6808</text></g>
<g id="n-CG14937"><circle class="rn" cx="1238" cy="179" r="7"/><text class="t" x="1238" y="179">CG14937</text></g>
<g id="n-CG18886"><circle class="gn" cx="1202" cy="172" r="7"/><text class="t" x="1202" y="172">CG18886</text></g>
<g id="n-CG10261"><circle class="gn" cx="1257" cy="155" r="7"/><text class="t" x="1257" y="155">CG10261</text></g>
<g id="n-CG9807"><circle class="gn" cx="1248" cy="209" r="7"/><text class="t" x="1248" y="209">CG9807</text></g>
<g id="n-CG15503"><circle class="rn" cx="1310" cy="182" r="7"/><text class="t" x="1310" y="182">CG15503</text></g>
<g id="n-CG18904"><circle class="gn" cx="1282" cy="158" r="7"/><text class="t" x="1282" y="158">CG18904</text></g>
<g id="n-CG5708"><circle class="gn" cx="1333" cy="155" r="7"/><text class="t" x="1333" y="155">CG5708</text></g>
<g id="n-CG5123"><circle class="gn" cx="1283" cy="205" r="7"/><text class="t" x="1283" y="205">CG5123</text></g>
<g id="n-CG5250"><circle class="gn" cx="1333" cy="207" r="7"/><text class="t" x="1333" y="207">CG5250</text></g>

<g id="n-CG16980"><circle class="gn" cx="1076" cy="388" r="7"/><text class="t" x="1076" y="388">CG16980</text></g>
<g id="n-CG12019"><circle class="gn" cx="1027" cy="407" r="7"/><text class="t" x="1027" y="407">CG12019</text></g>
<g id="n-CG9848"><circle class="rn" cx="1058" cy="419" r="7"/><text class="t" x="1058" y="419">CG9848</text></g>
<g id="n-mir-9385"><use xlink:href="#dm" class="mn" x="1070" y="458"/><text class="t" x="1070" y="458">mir-9385</text></g>
<g id="n-CG13518"><circle class="rn" cx="1079" cy="494" r="7"/><text class="t" x="1079" y="494">CG13518</text></g>
<g id="n-mir-315"><use xlink:href="#dm" class="mn" x="1084" y="527"/><text class="t" x="1084" y="527">mir-315</text></g>
<g id="n-CG5898"><circle class="gn" cx="1108" cy="388" r="7"/><text class="t" x="1108" y="388">CG5898</text></g>
<g id="n-CG6689"><circle class="rn" cx="1126" cy="417" r="7"/><text class="t" x="1126" y="417">CG6689</text></g>
<g id="n-mir-9c"><use xlink:href="#dm" class="mn" x="1138" y="450"/><text class="t" x="1138" y="450">mir-9c</text></g>
<g id="n-CG4580"><circle class="rn" cx="1160" cy="481" r="7"/><text class="t" x="1160" y="481">CG4580</text></g>
<g id="n-mir-4"><use xlink:href="#dm" class="mn" x="1181" y="504"/><text class="t" x="1181" y="504">mir-4</text></g>

<g id="n-CG13407"><circle class="rn" cx="1063" cy="663" r="7"/><text class="t" x="1063" y="663">CG13407</text></g>
<g id="n-CG6407"><circle class="gn" cx="1098" cy="657" r="7"/><text class="t" x="1098" y="657">CG6407</text></g>
<g id="n-CG7011"><circle class="gn" cx="1034" cy="702" r="7"/><text class="t" x="1034" y="702">CG7011</text></g>
<g id="n-mir-1a"><use xlink:href="#dm" class="mn" x="1122" y="657"/><text class="t" x="1122" y="657">mir-1</text></g>
<g id="n-CG31492"><circle class="rn" cx="1148" cy="657" r="7"/><text class="t" x="1148" y="657">CG31492</text></g>
<g id="n-mir-1b"><use xlink:href="#dm" class="mn" x="1172" y="657"/><text class="t" x="1172" y="657">mir-1</text></g>
<g id="n-CG31459"><circle class="rn" cx="1198" cy="657" r="7"/><text class="t" x="1198" y="657">CG31459</text></g>
<g id="n-mir-1c"><use xlink:href="#dm" class="mn" x="1222" y="657"/><text class="t" x="1222" y="657">mir-1</text></g>
<g id="n-CG31458"><circle class="rn" cx="1248" cy="657" r="7"/><text class="t" x="1248" y="657">CG31458</text></g>
<g id="n-bam"><circle class="gn" cx="1272" cy="657" r="7"/><text class="t" x="1272" y="657">bam</text></g>
<g id="n-CG31406"><circle class="rn" cx="1298" cy="657" r="7"/><text class="t" x="1298" y="657">CG31406</text></g>

<g id="n-mir-2a-p"><use xlink:href="#dm" class="mn" x="1045" y="817"/><text class="t" x="1045" y="817">mir-2</text></g>
<g id="n-CG18992"><circle class="rn" cx="1071" cy="817" r="7"/><text class="t" x="1071" y="817">CG18992</text></g>
<g id="n-mir-2b-p"><use xlink:href="#dm" class="mn" x="1095" y="817"/><text class="t" x="1095" y="817">mir-2</text></g>
<g id="n-CG5145"><circle class="rn" cx="1121" cy="817" r="7"/><text class="t" x="1121" y="817">CG5145</text></g>
<g id="n-mir-2c-p"><use xlink:href="#dm" class="mn" x="1144" y="817"/><text class="t" x="1144" y="817">mir-2</text></g>
<g id="n-CG18524"><circle class="rn" cx="1171" cy="817" r="7"/><text class="t" x="1171" y="817">CG18524</text></g>
<g id="n-CG9013"><circle class="gn" cx="1194" cy="817" r="7"/><text class="t" x="1194" y="817">CG9013</text></g>
<g id="n-CG9120"><circle class="rn" cx="1220" cy="817" r="7"/><text class="t" x="1220" y="817">CG9120</text></g>
<g id="n-CG6687"><circle class="gn" cx="1244" cy="817" r="7"/><text class="t" x="1244" y="817">CG6687</text></g>
<g id="n-CG7958"><circle class="rn" cx="1271" cy="817" r="7"/><text class="t" x="1271" y="817">CG7958</text></g>
<g id="n-CG5815"><circle class="gn" cx="1294" cy="817" r="7"/><text class="t" x="1294" y="817">CG5815</text></g>
<g id="n-CG17675"><circle class="rn" cx="1320" cy="817" r="7"/><text class="t" x="1320" y="817">CG17675</text></g>
</svg>
